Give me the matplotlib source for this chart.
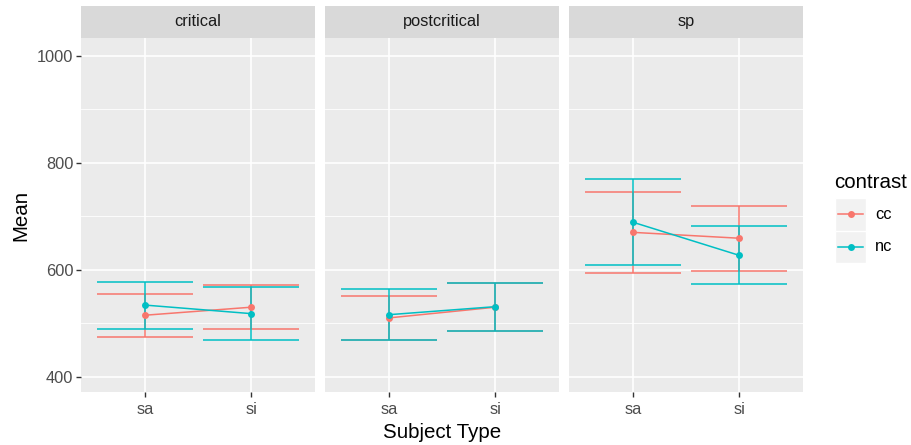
import matplotlib
matplotlib.use("Agg")
import matplotlib.pyplot as plt
from matplotlib.patches import Rectangle

plt.rcParams['font.family'] = ['Liberation Sans', 'DejaVu Sans']

# data
facets = ["critical", "postcritical", "sp"]
subject_types = ["sa", "si"]
groups = ["cc", "nc"]
colors = {"cc": "#F8766D", "nc": "#00BFC4"}

cc_mean = [[515, 530], [510, 530], [670, 659]]
cc_err = [[40, 41], [41, 45], [76, 61]]
nc_mean = [[534, 518], [516, 531], [689, 627]]
nc_err = [[44, 49], [48, 45], [80, 54]]

means = {"cc": cc_mean, "nc": nc_mean}
errs = {"cc": cc_err, "nc": nc_err}

y_major = [400, 600, 800, 1000]
y_minor = [500, 700, 900]

W, H = 911, 445
fig = plt.figure(figsize=(W / 100, H / 100), dpi=100)

panel_left = [81, 325, 569]
panel_w = 234
panel_top, panel_bot = 37.7, 391.7
strip_top = 5.7

tick_col = "#4D4D4D"
fs_tick = 11.8
fs_title = 14.8

for i, name in enumerate(facets):
    x0 = panel_left[i]
    ax = fig.add_axes([x0 / W, 1 - panel_bot / H, panel_w / W, (panel_bot - panel_top) / H])
    ax.set_facecolor("#EBEBEB")
    ax.set_xlim(0.4, 2.6)
    ax.set_ylim(372, 1034)
    for s in ax.spines.values():
        s.set_visible(False)
    for v in y_minor:
        ax.axhline(v, color="white", lw=0.6, zorder=0)
    for v in y_major:
        ax.axhline(v, color="white", lw=1.2, zorder=0)
    xs = list(range(1, len(subject_types) + 1))
    for v in xs:
        ax.axvline(v, color="white", lw=1.2, zorder=0)

    for g in groups:
        m = means[g][i]
        e = errs[g][i]
        c = colors[g]
        ax.errorbar(xs, m, yerr=e, fmt="none", ecolor=c, elinewidth=1.1,
                    capsize=0, zorder=2)
        for xv, mv, ev in zip(xs, m, e):
            ax.hlines([mv - ev, mv + ev], xv - 0.45, xv + 0.45, color=c, lw=1.1, zorder=2)
        ax.plot(xs, m, color=c, lw=1.1, zorder=3)
        ax.plot(xs, m, "o", color=c, ms=5, mew=0, zorder=4)

    ax.set_xticks(xs)
    ax.set_xticklabels(subject_types, fontsize=fs_tick, color=tick_col)
    ax.tick_params(axis="x", length=3.5, width=1, color="#333333", pad=4)
    if i == 0:
        ax.set_yticks(y_major)
        ax.set_yticklabels([str(v) for v in y_major], fontsize=fs_tick, color=tick_col)
        ax.tick_params(axis="y", length=3.5, width=1, color="#333333", pad=2)
    else:
        ax.set_yticks([])

    # strip
    sax = fig.add_axes([x0 / W, 1 - panel_top / H, panel_w / W, (panel_top - strip_top) / H])
    sax.set_facecolor("#D9D9D9")
    sax.set_xticks([])
    sax.set_yticks([])
    for s in sax.spines.values():
        s.set_visible(False)
    sax.text(0.5, 0.5, name, ha="center", va="center", fontsize=fs_tick,
             color="#1A1A1A", transform=sax.transAxes)

fig.text(442 / W, 1 - 433 / H, "Subject Type", ha="center", va="center", fontsize=fs_title)
fig.text(21 / W, 1 - 215 / H, "Mean", ha="center", va="center", rotation=90, fontsize=fs_title)

# legend
fig.text(834 / W, 1 - 182 / H, "contrast", ha="left", va="center", fontsize=fs_title)
key_x0, key_w, key_h = 835, 31, 32.5
for k, g in enumerate(groups):
    ky = 198 + k * key_h
    kax = fig.add_axes([key_x0 / W, 1 - (ky + key_h) / H, key_w / W, key_h / H])
    kax.set_xlim(0, 1)
    kax.set_ylim(0, 1)
    kax.set_axis_off()
    kax.add_patch(Rectangle((0, 0), 1, 1, facecolor="#F2F2F2", edgecolor="white", lw=1))
    kax.plot([0.1, 0.9], [0.5, 0.5], color=colors[g], lw=1.1)
    kax.plot([0.5], [0.5], "o", color=colors[g], ms=5, mew=0)
    fig.text(875 / W, 1 - (ky + key_h / 2) / H, g, ha="left", va="center", fontsize=fs_tick)

fig.savefig("out.png", dpi=100)
